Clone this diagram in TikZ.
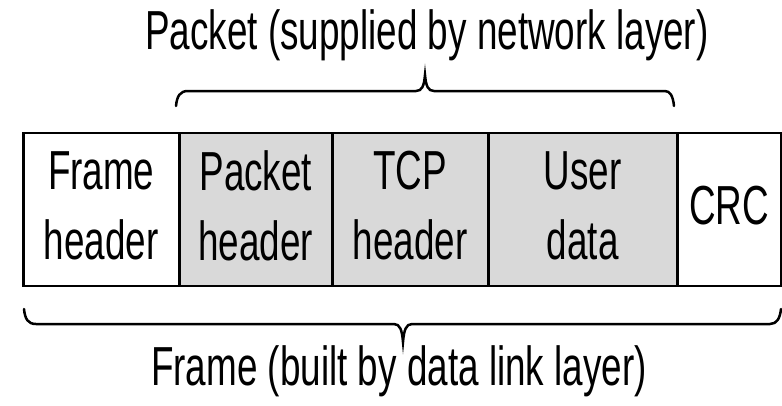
\documentclass[tikz,border=0pt]{standalone}
\usepackage{fontspec}
\newfontfamily\narrowsans[FakeStretch=0.67]{Liberation Sans}
\begin{document}
\begin{tikzpicture}[x=1pt,y=-1pt,
  cell/.style={draw=black, line width=2.5pt, minimum height=153pt, inner sep=0pt, anchor=west},
  grayc/.style={cell, fill=black!15},
  whitec/.style={cell, fill=white},
  celltext/.style={inner sep=0pt, align=center, yshift=4pt,
    font=\narrowsans\fontsize{55}{70}\selectfont},
  brace/.style={draw=black, line width=2.5pt, line cap=round},
  label/.style={font=\narrowsans\fontsize{55}{66}\selectfont, inner sep=0pt, anchor=base}]
\useasboundingbox (0,0) rectangle (782,405);
\node[whitec, minimum width=156pt] (fh) at (22,209.5) {};
\node[grayc, minimum width=153pt] (ph) at (178,209.5) {};
\node[grayc, minimum width=156pt] (tcp) at (331,209.5) {};
\node[grayc, minimum width=189pt] (ud) at (487,209.5) {};
\node[whitec, minimum width=104pt] (crc) at (676,209.5) {};
\node[celltext] (fht) at (fh.center) {Frame\\header};
\node[celltext] (pht) at (ph.center) {Packet\\header};
\node[celltext] (tcpt) at (tcp.center) {TCP\\header};
\node[celltext] (udt) at (ud.center) {User\\data};
\node[celltext] (crct) at (crc.center) {CRC};
\node[label] (top) at (427,49) {Packet (supplied by network layer)};
\node[label] (bot) at (399,385) {Frame (built by data link layer)};
\draw[brace] (176,106) .. controls (177,96) and (180,91) .. (188,91) -- (416,91)
  .. controls (422,91) and (424,86) .. (425,75)
  .. controls (426,86) and (428,91) .. (434,91) -- (665,91)
  .. controls (670,91) and (673,96) .. (674,106);
\draw[brace] (24,309) .. controls (25,319) and (28,324) .. (36,324) -- (394,324)
  .. controls (400,324) and (402,330) .. (403,342)
  .. controls (404,330) and (406,324) .. (412,324) -- (770,324)
  .. controls (777,324) and (780,318) .. (781,309);
\end{tikzpicture}
\end{document}
